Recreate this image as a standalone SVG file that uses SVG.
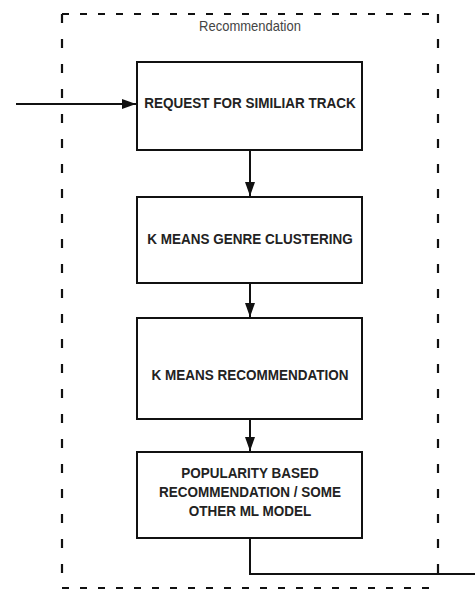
<svg xmlns="http://www.w3.org/2000/svg" width="475" height="590" viewBox="0 0 475 590">
<style>
.frameh{fill:none;stroke:#111;stroke-width:2.2;stroke-dasharray:7 11}
.framev{fill:none;stroke:#111;stroke-width:2.2;stroke-dasharray:9 16}
.box{fill:#fff;stroke:#111;stroke-width:2}
.lbl{font-family:"Liberation Sans",Arial,sans-serif;font-weight:bold;font-size:13.5px;fill:#222;text-anchor:middle}
.title{font-family:"Liberation Sans",Arial,sans-serif;font-size:13px;fill:#444;text-anchor:middle}
.edge{fill:none;stroke:#111;stroke-width:2}
</style>
<defs>
<marker id="arr" viewBox="0 0 14 10" refX="14" refY="5" markerWidth="14" markerHeight="10" markerUnits="userSpaceOnUse" orient="auto">
<path d="M0,0 L14,5 L0,10 Z" fill="#111"/>
</marker>
</defs>
<g id="container">
<line class="frameh" x1="62" y1="14" x2="438" y2="14"/>
<line class="frameh" x1="62" y1="588" x2="438" y2="588"/>
<line class="framev" x1="62" y1="14" x2="62" y2="588"/>
<line class="framev" x1="438" y1="14" x2="438" y2="588"/>
<text class="title" transform="translate(250,31) scale(1,1.1)">Recommendation</text>
</g>
<g id="connectors">
<line class="edge" x1="16" y1="104" x2="136" y2="104" marker-end="url(#arr)"/>
<line class="edge" x1="250" y1="150" x2="250" y2="196" marker-end="url(#arr)"/>
<line class="edge" x1="250" y1="283" x2="250" y2="317" marker-end="url(#arr)"/>
<line class="edge" x1="250" y1="419" x2="250" y2="451" marker-end="url(#arr)"/>
<polyline class="edge" points="250,538 250,574 475,574"/>
</g>
<g id="n1">
<rect class="box" x="137" y="62" width="225" height="88"/>
<text class="lbl" transform="translate(250,108) scale(1,1.12)">REQUEST FOR SIMILIAR TRACK</text>
</g>
<g id="n2">
<rect class="box" x="137" y="197" width="225" height="86"/>
<text class="lbl" transform="translate(250,244) scale(1,1.12)">K MEANS GENRE CLUSTERING</text>
</g>
<g id="n3">
<rect class="box" x="137" y="318" width="225" height="101"/>
<text class="lbl" transform="translate(250,380) scale(1,1.12)">K MEANS RECOMMENDATION</text>
</g>
<g id="n4">
<rect class="box" x="137" y="452" width="225" height="86"/>
<text class="lbl" transform="translate(250,478) scale(1,1.12)">POPULARITY BASED</text>
<text class="lbl" transform="translate(250,497) scale(1,1.12)">RECOMMENDATION / SOME</text>
<text class="lbl" transform="translate(250,516) scale(1,1.12)">OTHER ML MODEL</text>
</g>
</svg>
